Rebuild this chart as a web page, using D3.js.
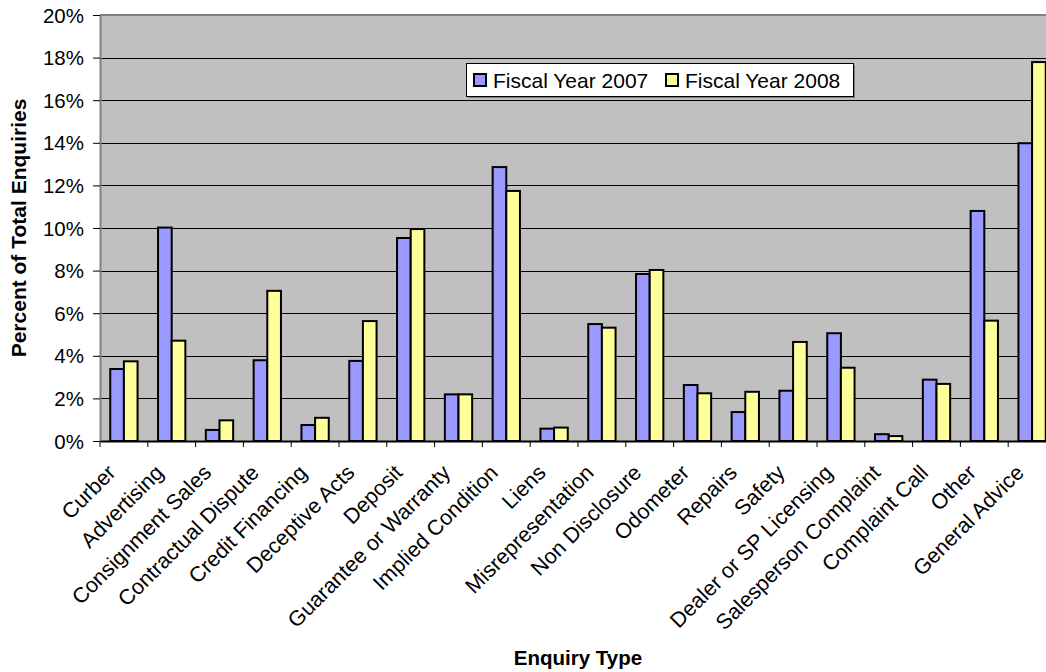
<!DOCTYPE html>
<html><head><meta charset="utf-8">
<script src="https://cdn.jsdelivr.net/npm/d3@7"></script>
<style>body{margin:0;background:#fff}svg{display:block;font-family:Arial,"Liberation Sans",sans-serif}</style>
</head><body><svg id="c" width="1046" height="672"></svg>
<script>
const categories = ["Curber","Advertising","Consignment Sales","Contractual Dispute","Credit Financing","Deceptive Acts","Deposit","Guarantee or Warranty","Implied Condition","Liens","Misrepresentation","Non Disclosure","Odometer","Repairs","Safety","Dealer or SP Licensing","Salesperson Complaint","Complaint Call","Other","General Advice"];
const fy2007 = [3.38,10.02,0.52,3.79,0.75,3.76,9.53,2.19,12.86,0.58,5.49,7.84,2.63,1.36,2.36,5.06,0.32,2.88,10.8,13.98];
const fy2008 = [3.74,4.71,0.97,7.05,1.09,5.63,9.95,2.19,11.74,0.63,5.32,8.03,2.24,2.31,4.65,3.44,0.23,2.68,5.65,17.79];
const seriesNames = ["Fiscal Year 2007","Fiscal Year 2008"];
const yTicks = [0,2,4,6,8,10,12,14,16,18,20];

const svg = d3.select("#c");
const FONT = "Arial, 'Liberation Sans', sans-serif";
const L = 100, T = 15, B = 441, R = 100 + 20*47.8;
const x = d3.scaleBand().domain(categories).range([L, R]).padding(0);
const y = d3.scaleLinear().domain([0,20]).range([B, T]);
const colors = ["#9999FF","#FFFF99"];

// plot background
svg.append("rect").attr("x",L).attr("y",T).attr("width",R-L).attr("height",B-T).attr("fill","#C0C0C0");
// gridlines
svg.append("g").selectAll("line").data(yTicks.filter(d=>d>0&&d<20)).join("line")
  .attr("x1",L).attr("x2",R).attr("y1",d=>Math.round(y(d))+0.5).attr("y2",d=>Math.round(y(d))+0.5).attr("stroke","#000").attr("stroke-width",1);
// top border
svg.append("line").attr("x1",L).attr("x2",R).attr("y1",T).attr("y2",T).attr("stroke","#808080").attr("stroke-width",2);

// bars
const bw = x.bandwidth()/3.5;
const g = svg.append("g");
categories.forEach((c,i)=>{
  [fy2007[i], fy2008[i]].forEach((v,s)=>{
    g.append("rect")
      .attr("x", x(c) + bw*0.75 + s*bw)
      .attr("y", y(v))
      .attr("width", bw)
      .attr("height", y(0)-y(v))
      .attr("fill", colors[s]).attr("stroke","#000").attr("stroke-width",2);
  });
});

// y axis
const ya = svg.append("g").attr("transform",`translate(${L},0)`)
  .call(d3.axisLeft(y).tickValues(yTicks).tickFormat(d=>d+"%").tickSize(7).tickSizeOuter(0));
ya.select(".domain").attr("stroke","#808080").attr("stroke-width",2);
ya.selectAll(".tick line").attr("stroke","#000");
ya.selectAll("text").attr("font-size",20.5).attr("fill","#000").attr("font-family",FONT).attr("x",-16).attr("dy","0.35em");

// x axis
const xa = svg.append("g").attr("transform",`translate(0,${B})`)
  .call(d3.axisBottom(x).tickValues([]).tickSizeOuter(0));
xa.select(".domain").attr("stroke","#000").attr("stroke-width",2);
const bounds = categories.map(c=>x(c));
xa.selectAll(".bt").data(bounds).join("line").attr("class","bt")
  .attr("x1",d=>d).attr("x2",d=>d).attr("y1",0).attr("y2",6).attr("stroke","#000");
xa.selectAll(".lbl").data(categories).join("text").attr("class","lbl")
  .attr("transform",d=>`translate(${x(d)+x.bandwidth()/2-7},${33}) rotate(-45)`)
  .attr("text-anchor","end").attr("font-size",21.5).attr("fill","#000").attr("font-family",FONT)
  .text(d=>d);

// axis titles
svg.append("text").attr("transform",`translate(26,${(T+B)/2}) rotate(-90)`).attr("text-anchor","middle")
  .attr("font-size",21).attr("font-weight","bold").attr("font-family",FONT).text("Percent of Total Enquiries");
svg.append("text").attr("x",(L+R)/2).attr("y",665).attr("text-anchor","middle")
  .attr("font-size",20.5).attr("font-weight","bold").attr("font-family",FONT).text("Enquiry Type");

// legend
const lg = svg.append("g");
lg.append("rect").attr("x",468).attr("y",65).attr("width",387).attr("height",33).attr("fill","#808080");
lg.append("rect").attr("x",466.5).attr("y",63.5).attr("width",387).attr("height",33).attr("fill","#fff").attr("stroke","#000").attr("stroke-width",1);
const lx = [474, 666];
seriesNames.forEach((n,i)=>{
  lg.append("rect").attr("x",lx[i]).attr("y",74).attr("width",12).attr("height",12).attr("fill",colors[i]).attr("stroke","#000").attr("stroke-width",2);
  lg.append("text").attr("x",lx[i]+19).attr("y",87.5).attr("font-size",21).attr("font-family",FONT).text(n);
});
</script></body></html>
